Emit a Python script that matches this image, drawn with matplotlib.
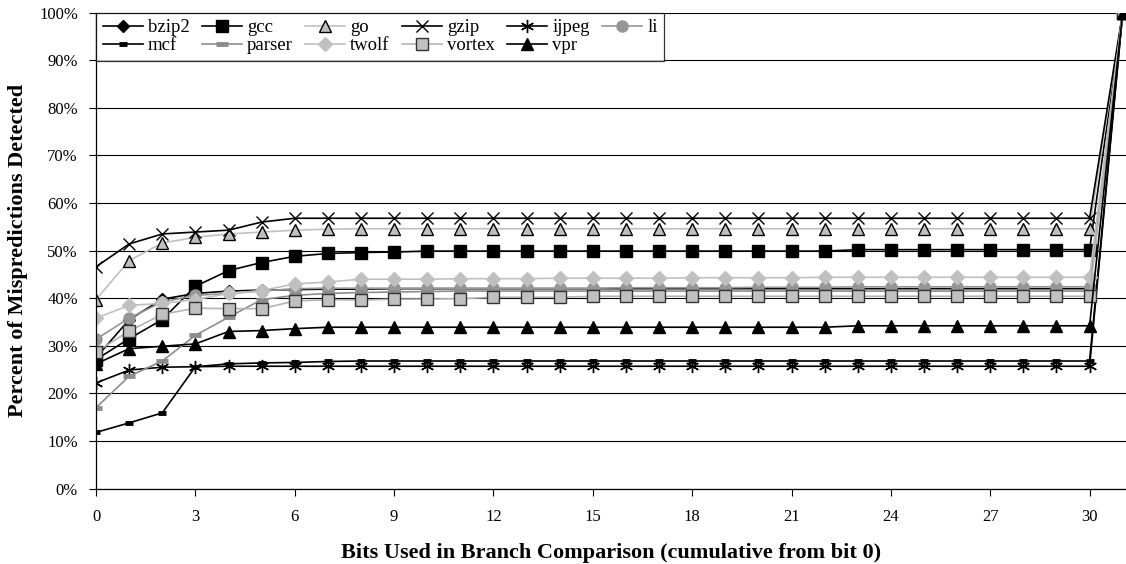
import numpy as np
import matplotlib
matplotlib.use("Agg")
import matplotlib.pyplot as plt
from matplotlib.ticker import PercentFormatter

# ---------------- data (percent of mispredictions detected) ----------------
bits = np.arange(0, 32)

bzip2 = [27.5, 35.5, 39.8, 41.0, 41.5, 41.7, 41.8, 41.9, 41.9, 42.0, 42.0, 42.0,
         42.0, 42.0, 42.0, 42.0, 42.0, 42.0, 42.0, 42.0, 42.0, 42.0, 42.0, 42.0,
         42.0, 42.0, 42.0, 42.0, 42.0, 42.0, 42.0, 100.0]
gcc = [27.1, 31.5, 35.5, 42.5, 45.8, 47.5, 48.8, 49.4, 49.6, 49.7, 49.9, 49.9,
       49.9, 49.9, 49.9, 49.9, 49.9, 49.9, 49.9, 49.9, 49.9, 49.9, 49.9, 50.2,
       50.2, 50.2, 50.2, 50.2, 50.2, 50.2, 50.2, 100.0]
go = [39.7, 47.9, 51.6, 52.8, 53.5, 53.9, 54.3, 54.5, 54.6, 54.6, 54.6, 54.6,
      54.6, 54.6, 54.6, 54.6, 54.6, 54.6, 54.6, 54.6, 54.6, 54.6, 54.6, 54.6,
      54.6, 54.6, 54.6, 54.6, 54.6, 54.6, 54.6, 100.0]
gzip = [46.6, 51.4, 53.5, 53.9, 54.3, 56.0, 56.8, 56.8, 56.8, 56.8, 56.8, 56.8,
        56.8, 56.8, 56.8, 56.8, 56.8, 56.8, 56.8, 56.8, 56.8, 56.8, 56.8, 56.8,
        56.8, 56.8, 56.8, 56.8, 56.8, 56.8, 56.8, 100.0]
ijpeg = [22.2, 24.9, 25.5, 25.6, 25.7, 25.7, 25.7, 25.7, 25.7, 25.7, 25.7, 25.7,
         25.7, 25.7, 25.7, 25.7, 25.7, 25.7, 25.7, 25.7, 25.7, 25.7, 25.7, 25.7,
         25.7, 25.7, 25.7, 25.7, 25.7, 25.7, 25.7, 100.0]
li = [31.4, 35.8, 39.2, 40.6, 41.0, 41.5, 42.0, 42.1, 42.1, 42.1, 42.1, 42.1,
      42.1, 42.1, 42.1, 42.1, 42.2, 42.2, 42.2, 42.2, 42.3, 42.3, 42.3, 42.4,
      42.4, 42.4, 42.4, 42.4, 42.4, 42.4, 42.4, 100.0]
mcf = [11.8, 13.8, 15.9, 25.6, 26.2, 26.4, 26.5, 26.7, 26.8, 26.8, 26.8, 26.8,
       26.8, 26.8, 26.8, 26.8, 26.8, 26.8, 26.8, 26.8, 26.8, 26.8, 26.8, 26.8,
       26.8, 26.8, 26.8, 26.8, 26.8, 26.8, 26.8, 100.0]
parser = [17.0, 23.6, 26.8, 32.2, 36.0, 39.7, 40.6, 41.0, 41.2, 41.3, 41.4, 41.5,
          41.5, 41.5, 41.5, 41.5, 41.5, 41.5, 41.5, 41.5, 41.5, 41.5, 41.5, 41.5,
          41.5, 41.5, 41.5, 41.5, 41.5, 41.5, 41.5, 100.0]
twolf = [35.8, 38.5, 38.9, 39.7, 41.0, 41.6, 43.0, 43.4, 44.0, 44.0, 44.0, 44.1,
         44.1, 44.1, 44.2, 44.2, 44.2, 44.2, 44.3, 44.3, 44.3, 44.3, 44.4, 44.4,
         44.4, 44.4, 44.4, 44.4, 44.4, 44.4, 44.4, 100.0]
vortex = [28.7, 33.1, 36.6, 37.9, 37.8, 37.8, 39.4, 39.7, 39.6, 39.8, 39.8, 39.9,
          40.2, 40.2, 40.2, 40.4, 40.4, 40.4, 40.4, 40.4, 40.4, 40.4, 40.4, 40.4,
          40.4, 40.4, 40.4, 40.4, 40.4, 40.4, 40.4, 100.0]
vpr = [26.2, 29.4, 29.9, 30.4, 33.0, 33.2, 33.6, 33.9, 33.9, 33.9, 33.9, 33.9,
       33.9, 33.9, 33.9, 33.9, 33.9, 33.9, 33.9, 33.9, 33.9, 33.9, 33.9, 34.2,
       34.2, 34.2, 34.2, 34.2, 34.2, 34.2, 34.2, 100.0]

names = ['bzip2', 'gcc', 'go', 'gzip', 'ijpeg', 'li',
         'mcf', 'parser', 'twolf', 'vortex', 'vpr']
values = [bzip2, gcc, go, gzip, ijpeg, li, mcf, parser, twolf, vortex, vpr]
xticks = np.arange(0, 31, 3)

# ---------------- styles ----------------
styles = {
    'bzip2':  dict(color='black', marker='D', ms=6.5, mfc='black', mec='black'),
    'gcc':    dict(color='black', marker='s', ms=8, mfc='black', mec='black'),
    'go':     dict(color='#c0c0c0', marker='^', ms=8.5, mfc='#c0c0c0', mec='black', mew=1.0),
    'gzip':   dict(color='black', marker='x', ms=8.5, mew=1.0),
    'ijpeg':  dict(color='black', marker=(6, 2, 0), ms=9.5, mew=1.0),
    'li':     dict(color='#969696', marker='o', ms=8, mfc='#969696', mec='#969696'),
    'mcf':    dict(color='black', marker='_', ms=6, mew=3.5),
    'parser': dict(color='#8c8c8c', marker='_', ms=9, mew=3.5),
    'twolf':  dict(color='#c0c0c0', marker='D', ms=7, mfc='#c0c0c0', mec='#c0c0c0'),
    'vortex': dict(color='#b4b4b4', marker='s', ms=8, mfc='#c0c0c0', mec='#333333', mew=1.0),
    'vpr':    dict(color='black', marker='^', ms=8.5, mfc='black', mec='black'),
}

plt.rcParams['font.family'] = ['Liberation Serif', 'DejaVu Serif']

fig = plt.figure(figsize=(11.26, 5.64), dpi=100)
ax = fig.add_axes([0.0853, 0.1338, 0.9147, 0.8437])

lines = {}
for name, vals in zip(names, values):
    lines[name], = ax.plot(bits, np.array(vals) / 100.0, lw=1.2, label=name,
                           **styles[name])

ax.set_xlim(0, 31.1)
ax.set_ylim(0, 1.0)
ax.set_xticks(xticks)
ax.set_yticks(np.arange(0, 1.01, 0.1))
ax.yaxis.set_major_formatter(PercentFormatter(1.0, decimals=0))
ax.tick_params(axis='both', labelsize=12, direction='out', length=5, width=0.8)
ax.tick_params(axis='x', pad=10)
ax.tick_params(axis='y', pad=8)
ax.grid(axis='y', color='black', lw=0.8)
ax.set_axisbelow(True)
for s in ['top', 'right']:
    ax.spines[s].set_visible(False)
ax.spines['left'].set_linewidth(0.9)
ax.spines['bottom'].set_linewidth(0.9)

ax.set_xlabel('Bits Used in Branch Comparison (cumulative from bit 0)',
              fontsize=16, fontweight='bold', labelpad=13)
ax.set_ylabel('Percent of Mispredictions Detected', fontsize=16,
              fontweight='bold', labelpad=8)

# legend filled row by row (matplotlib fills by column)
order = ['bzip2', 'mcf', 'gcc', 'parser', 'go', 'twolf',
         'gzip', 'vortex', 'ijpeg', 'vpr', 'li']
leg = ax.legend([lines[n] for n in order], order,
                loc='upper left', bbox_to_anchor=(0, 1), borderaxespad=0,
                ncol=6, fontsize=13.5, frameon=True, fancybox=False,
                handlelength=2.15, handletextpad=0.27, columnspacing=0.64,
                labelspacing=0.03, borderpad=0.35)
leg.get_frame().set_edgecolor('black')
leg.get_frame().set_linewidth(0.9)

fig.savefig('out.png', dpi=100)
